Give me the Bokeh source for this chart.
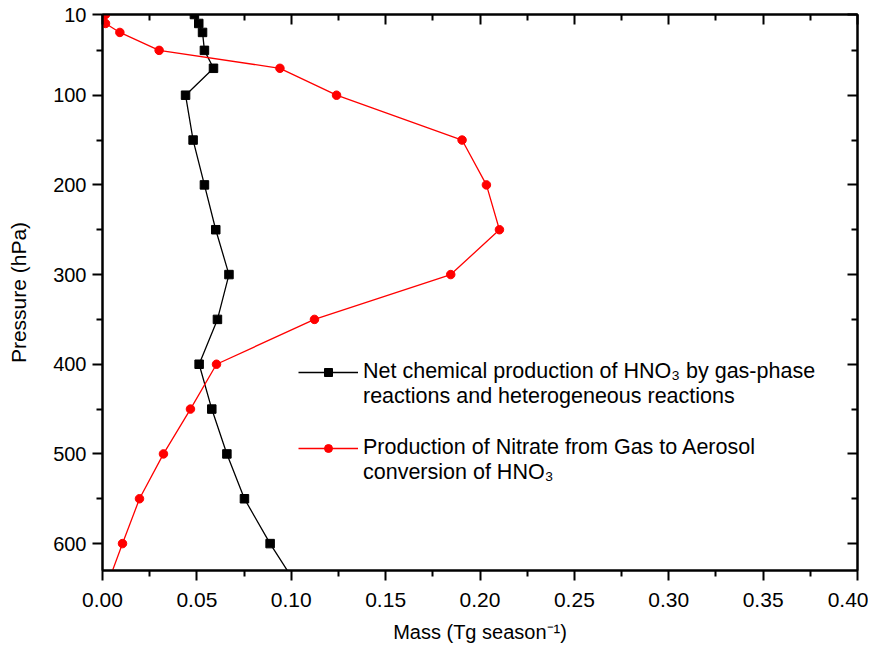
from bokeh.plotting import figure
from bokeh.models import (Range1d, LinearAxis, FixedTicker, Legend, LegendItem,
                          PrintfTickFormatter)
from bokeh.embed import file_html
from bokeh.resources import INLINE

# ---- data ----
pressure_net = [10, 20, 30, 50, 70, 100, 150, 200, 250, 300, 350, 400, 450, 500, 550, 600, 650]
mass_net = [0.0487, 0.051, 0.053, 0.054, 0.0588, 0.044, 0.048, 0.054, 0.060, 0.067,
            0.0609, 0.0512, 0.0579, 0.0659, 0.0752, 0.0888, 0.104]

pressure_aer = [10, 20, 30, 50, 70, 100, 150, 200, 250, 300, 350, 400, 450, 500, 550, 600, 650]
mass_aer = [0.0016, 0.0016, 0.0092, 0.030, 0.094, 0.124, 0.1905, 0.2034, 0.2103, 0.1845,
            0.1123, 0.0604, 0.0466, 0.0323, 0.0196, 0.0106, 0.0018]

x_ticks = [0.0, 0.05, 0.10, 0.15, 0.20, 0.25, 0.30, 0.35, 0.40]
x_minor = [0.025, 0.075, 0.125, 0.175, 0.225, 0.275, 0.325, 0.375]
y_ticks = [10, 100, 200, 300, 400, 500, 600]
y_minor = [50, 150, 250, 350, 450, 550]

label_net = ["Net chemical production of HNO\u2083 by gas-phase",
             "reactions and heterogeneous reactions"]
label_aer = ["Production of Nitrate from Gas to Aerosol",
             "conversion of HNO\u2083"]

FONT = "Liberation Sans"

p = figure(width=868, height=648, output_backend="svg", toolbar_location=None,
           x_range=Range1d(0, 0.40), y_range=Range1d(630, 10),
           x_axis_location=None, y_axis_location=None,
           min_border_left=102, min_border_right=11, min_border_top=14, min_border_bottom=78)
p.grid.visible = False
p.outline_line_color = "black"
p.outline_line_width = 2
p.background_fill_color = "white"
p.border_fill_color = "white"

def style(ax, labels=True, inward=False, ticks=None):
    ax.axis_line_width = 2
    ax.axis_line_color = "black"
    ax.major_tick_line_width = 2
    ax.minor_tick_line_width = 2
    ax.major_tick_line_color = "black"
    ax.minor_tick_line_color = "black"
    if inward:
        ax.major_tick_in = 10
        ax.major_tick_out = 0
        ax.minor_tick_in = 6
        ax.minor_tick_out = 0
    else:
        ax.major_tick_in = 0
        ax.major_tick_out = 10
        ax.minor_tick_in = 0
        ax.minor_tick_out = 6
    ax.major_label_text_font = FONT
    ax.major_label_text_color = "black"
    ax.axis_label_text_font = FONT
    ax.axis_label_text_font_style = "normal"
    ax.axis_label_text_color = "black"
    if not labels:
        ax.major_label_overrides = {t: "" for t in ticks}
        ax.major_label_text_font_size = "1px"
        ax.major_label_standoff = 0

xb = LinearAxis(ticker=FixedTicker(ticks=x_ticks, minor_ticks=x_minor),
                formatter=PrintfTickFormatter(format="%.2f"),
                axis_label="Mass (Tg season\u207b\u00b9)")
style(xb)
xb.major_label_text_font_size = "21px"
xb.axis_label_text_font_size = "20px"
xb.major_label_standoff = 12
xb.axis_label_standoff = 11
p.add_layout(xb, "below")

xt = LinearAxis(ticker=FixedTicker(ticks=x_ticks, minor_ticks=x_minor))
style(xt, labels=False, inward=True, ticks=x_ticks)
p.add_layout(xt, "above")

yl = LinearAxis(ticker=FixedTicker(ticks=y_ticks, minor_ticks=y_minor),
                axis_label="Pressure (hPa)")
style(yl)
yl.major_label_text_font_size = "20px"
yl.axis_label_text_font_size = "21px"
yl.major_label_standoff = 6
yl.axis_label_standoff = 20
p.add_layout(yl, "left")

yr = LinearAxis(ticker=FixedTicker(ticks=y_ticks, minor_ticks=y_minor))
style(yr, labels=False, inward=True, ticks=y_ticks)
p.add_layout(yr, "right")

l1 = p.line(mass_net, pressure_net, line_color="black", line_width=1.3)
s1 = p.scatter(mass_net, pressure_net, marker="square", size=8.5,
               fill_color="black", line_color="black")
l2 = p.line(mass_aer, pressure_aer, line_color="#ff0000", line_width=1.3)
s2 = p.scatter(mass_aer, pressure_aer, marker="circle", size=8.5,
               fill_color="#ff0000", line_color="#ff0000")

def make_legend(lines, renderers, loc):
    items = [LegendItem(label=lines[0], renderers=renderers)]
    items += [LegendItem(label=t, renderers=[]) for t in lines[1:]]
    return Legend(items=items, location=loc, padding=0, margin=0, spacing=0,
                  glyph_width=60, glyph_height=20, label_standoff=5,
                  label_height=20,
                  border_line_color=None, background_fill_alpha=0,
                  label_text_font=FONT, label_text_font_size="21.5px",
                  label_text_color="black")

p.add_layout(make_legend(label_net, [l1, s1], (196, 161)), "center")
p.add_layout(make_legend(label_aer, [l2, s2], (196, 85)), "center")

open("out.html", "w").write(file_html(p, INLINE))
